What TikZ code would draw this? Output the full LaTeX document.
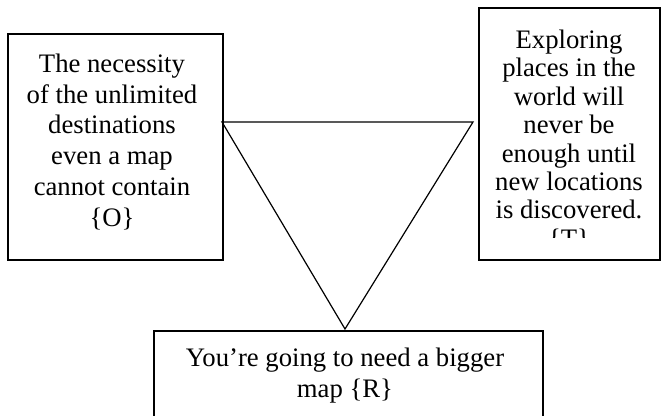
\documentclass[tikz,border=0pt]{standalone}
\usepackage{fontspec}
\setmainfont{Liberation Serif}
\begin{document}
\begin{tikzpicture}[
    x=1pt, y=-1pt,
    box/.style={draw, line width=1.5pt, inner sep=0pt, anchor=north west},
    txt/.style={align=center, inner sep=0pt, anchor=north},
    tri/.style={draw, line width=1.2pt, line join=miter}
  ]
  \clip (0,0) rectangle (661,415);
  % the three boxes
  \node[box, minimum width=215pt, minimum height=226pt] (lbox) at (7,33) {};
  \node[box, minimum width=181pt, minimum height=252pt] (rbox) at (478,7) {};
  \node[box, minimum width=389pt, minimum height=100pt] (bbox) at (153,330) {};
  % their texts
  \node[txt, font=\fontsize{26.7}{30.7}\selectfont] (ltext) at (112,53.8)
    {The necessity\\of the unlimited\\destinations\\even a map\\cannot contain\\\{O\}};
  \begin{scope}
    \clip (rbox.north west) rectangle (659,237);
    \node[txt, font=\fontsize{26.7}{28.4}\selectfont] (rtext) at (569,29.8)
      {Exploring\\places in the\\world will\\never be\\enough until\\new locations\\is discovered.\\\{T\}};
  \end{scope}
  \node[txt, font=\fontsize{26.7}{31}\selectfont] (btext) at (345,348)
    {You’re going to need a bigger\\map \{R\}};
  % the triangle between them
  \coordinate (tl) at (222,122);
  \coordinate (tr) at (473,122);
  \coordinate (apex) at (345,329);
  \draw[tri] (tl) -- (tr) -- (apex) -- cycle;
\end{tikzpicture}
\end{document}
